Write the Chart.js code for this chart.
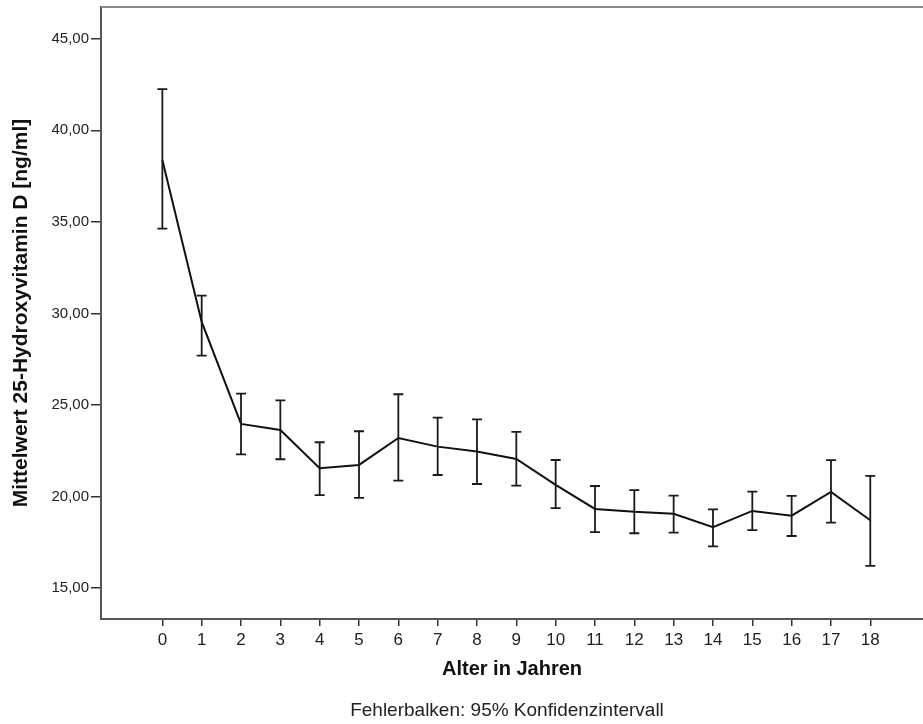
<!DOCTYPE html>
<html lang="de">
<head>
    <meta charset="UTF-8">
    <title>Mittelwert 25-Hydroxyvitamin D nach Alter</title>
    <style>
        body {
            margin: 0;
            background: white;
        }
        .chart-box {
            width: 923px;
            height: 724px;
        }
    </style>
</head>
<body>
    <div class="chart-box">
        <canvas id="vitChart"></canvas>
    </div>

    <script src="https://cdn.jsdelivr.net/npm/chart.js"></script>
    <script>
        // Alter in Jahren (Kategorien)
        const ages = [0, 1, 2, 3, 4, 5, 6, 7, 8, 9, 10, 11, 12, 13, 14, 15, 16, 17, 18];
        // Mittelwert 25-OH-D [ng/ml]
        const meanValues = [38.38, 29.54, 23.97, 23.64, 21.55, 21.73, 23.20, 22.73, 22.46, 22.06,
                            20.64, 19.33, 19.17, 19.06, 18.33, 19.22, 18.96, 20.26, 18.71];
        // 95% Konfidenzintervall
        const ciLower = [34.63, 27.70, 22.31, 22.04, 20.08, 19.93, 20.87, 21.18, 20.69, 20.60,
                         19.37, 18.06, 18.00, 18.03, 17.28, 18.17, 17.85, 18.58, 16.22];
        const ciUpper = [42.25, 30.97, 25.62, 25.26, 22.97, 23.57, 25.59, 24.31, 24.22, 23.53,
                         22.00, 20.58, 20.36, 20.05, 19.31, 20.27, 20.04, 21.99, 21.13];
        const yTickValues = [15, 20, 25, 30, 35, 40, 45];
        const footnote = 'Fehlerbalken: 95% Konfidenzintervall';

        const fontFam = "'Liberation Sans', Arial, sans-serif";

        // Fehlerbalken mit Kappen
        const errorBars = {
            id: 'errorBars',
            afterDatasetsDraw(chart) {
                const ctx = chart.ctx;
                const xs = chart.scales.x, ys = chart.scales.y;
                ctx.save();
                ctx.strokeStyle = '#1a1a1a';
                ctx.lineWidth = 1.8;
                ages.forEach((a, i) => {
                    const x = xs.getPixelForValue(a);
                    const yTop = ys.getPixelForValue(ciUpper[i]);
                    const yBot = ys.getPixelForValue(ciLower[i]);
                    ctx.beginPath();
                    ctx.moveTo(x, yTop);
                    ctx.lineTo(x, yBot);
                    ctx.moveTo(x - 5, yTop);
                    ctx.lineTo(x + 5, yTop);
                    ctx.moveTo(x - 5, yBot);
                    ctx.lineTo(x + 5, yBot);
                    ctx.stroke();
                });
                ctx.restore();
            }
        };

        // obere Rahmenlinie + Fussnote
        const frameAndNote = {
            id: 'frameAndNote',
            afterDraw(chart) {
                const a = chart.chartArea;
                const ctx = chart.ctx;
                ctx.save();
                ctx.strokeStyle = '#8a8a8a';
                ctx.lineWidth = 2;
                ctx.beginPath();
                ctx.moveTo(a.left, a.top);
                ctx.lineTo(chart.width, a.top);
                ctx.stroke();

                ctx.fillStyle = '#222';
                ctx.font = '19px ' + fontFam;
                ctx.textAlign = 'center';
                ctx.textBaseline = 'middle';
                ctx.fillText(footnote, (a.left + a.right) / 2 - 5, 711);
                ctx.restore();
            }
        };

        const whiteBg = {
            id: 'whiteBg',
            beforeDraw(chart) {
                const ctx = chart.ctx;
                ctx.save();
                ctx.fillStyle = 'white';
                ctx.fillRect(0, 0, chart.width, chart.height);
                ctx.restore();
            }
        };

        new Chart(document.getElementById('vitChart'), {
            type: 'line',
            data: {
                datasets: [{
                    data: ages.map((a, i) => ({ x: a, y: meanValues[i] })),
                    borderColor: '#111',
                    borderWidth: 2,
                    pointRadius: 0,
                    tension: 0,
                    fill: false
                }]
            },
            options: {
                responsive: true,
                maintainAspectRatio: false,
                animation: false,
                layout: { padding: { top: 7, left: 0, right: 0, bottom: 0 } },
                plugins: {
                    legend: { display: false },
                    tooltip: { enabled: false }
                },
                scales: {
                    x: {
                        type: 'linear',
                        min: -1.56,
                        max: 19.34,
                        afterFit(scale) {
                            scale.height = 105;
                            scale.paddingLeft = 0;
                            scale.paddingRight = 0;
                        },
                        afterBuildTicks(scale) { scale.ticks = ages.map(v => ({ value: v })); },
                        ticks: {
                            color: '#222',
                            padding: 3.8,
                            font: { family: fontFam, size: 17 },
                            callback: v => String(v)
                        },
                        grid: { drawOnChartArea: false, tickLength: 7, color: '#333', lineWidth: 1.5 },
                        border: { display: true, color: '#555', width: 2 },
                        title: {
                            display: true,
                            text: 'Alter in Jahren',
                            color: '#111',
                            font: { family: fontFam, size: 20, weight: 'bold' },
                            padding: { top: 0, bottom: 43 }
                        }
                    },
                    y: {
                        min: 13.32,
                        max: 46.73,
                        afterFit(scale) {
                            scale.width = 101;
                            scale.paddingTop = 0;
                            scale.paddingBottom = 0;
                        },
                        afterBuildTicks(scale) { scale.ticks = yTickValues.map(v => ({ value: v })); },
                        ticks: {
                            color: '#222',
                            padding: 2,
                            font: { family: fontFam, size: 15 },
                            callback: v => v.toFixed(2).replace('.', ',')
                        },
                        grid: { drawOnChartArea: false, tickLength: 10, color: '#333', lineWidth: 1.5 },
                        border: { display: true, color: '#555', width: 2 },
                        title: {
                            display: true,
                            text: 'Mittelwert 25-Hydroxyvitamin D [ng/ml]',
                            color: '#111',
                            font: { family: fontFam, size: 21, weight: 'bold' },
                            padding: { top: 8.4, bottom: 0 }
                        }
                    }
                }
            },
            plugins: [whiteBg, errorBars, frameAndNote]
        });
    </script>
</body>
</html>
